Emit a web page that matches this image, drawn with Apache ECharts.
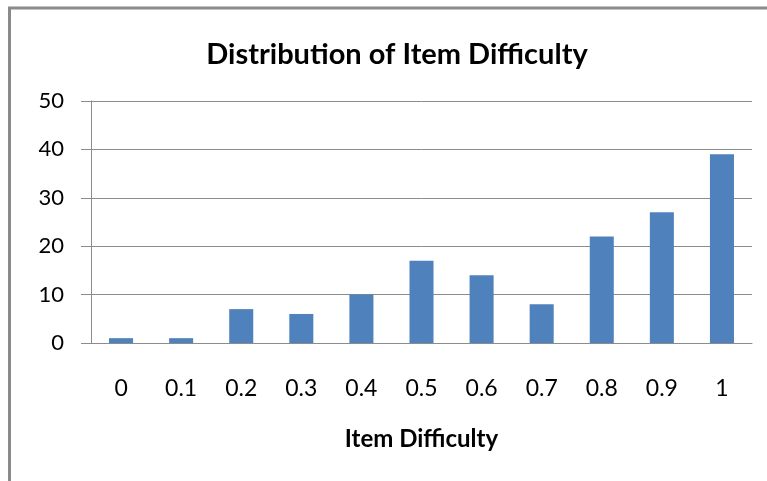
<!DOCTYPE html>
<html>
<head>
<meta charset="utf-8">
<script src="https://cdn.jsdelivr.net/npm/echarts@6/dist/echarts.min.js"></script>
<style>html,body{margin:0;padding:0;background:#fff;}#c{width:767px;height:481px;}</style>
</head>
<body>
<div id="c"></div>
<script>
const categories = ['0','0.1','0.2','0.3','0.4','0.5','0.6','0.7','0.8','0.9','1'];
const counts = [1, 1, 7, 6, 10, 17, 14, 8, 22, 27, 39];
const yTicks = [0, 10, 20, 30, 40, 50];
const titleText = 'Distribution of Item Difficulty';
const xAxisTitle = 'Item Difficulty';

const chart = echarts.init(document.getElementById('c'));
chart.setOption({
  animation: false,
  backgroundColor: '#ffffff',
  title: {
    text: titleText,
    left: 392, top: 35, textAlign: 'center',
    textStyle: {fontFamily: 'Lato', fontWeight: 'bold', fontSize: 29, color: '#000'}
  },
  graphic: [{
    type: 'polyline',
    shape: {points: [[9.5, 481], [9.5, 8], [767, 8]]},
    style: {stroke: '#8a8a8a', lineWidth: 3, fill: null}
  }],
  grid: {left: 91, right: 15, top: 101, bottom: 138},
  xAxis: {
    type: 'category',
    data: categories,
    boundaryGap: true,
    axisLine: {lineStyle: {color: '#8c8c8c', width: 1}},
    axisTick: {length: 8, lineStyle: {color: '#8c8c8c'}},
    axisLabel: {fontFamily: 'Lato', fontSize: 23, color: '#000', margin: 34},
    name: xAxisTitle,
    nameLocation: 'middle',
    nameGap: 84,
    nameTextStyle: {fontFamily: 'Lato', fontWeight: 'bold', fontSize: 24, color: '#000'}
  },
  yAxis: {
    type: 'value',
    min: yTicks[0], max: yTicks[yTicks.length - 1], interval: 10,
    axisLine: {show: true, lineStyle: {color: '#8c8c8c', width: 1}},
    axisTick: {show: true, length: 10, lineStyle: {color: '#8c8c8c'}},
    splitLine: {lineStyle: {color: '#8c8c8c', width: 1}},
    axisLabel: {fontFamily: 'Lato', fontSize: 22, color: '#000', margin: 27}
  },
  series: [{
    type: 'bar',
    data: counts,
    barWidth: '40%',
    itemStyle: {color: '#4f81bd'}
  }]
});
</script>
</body>
</html>
